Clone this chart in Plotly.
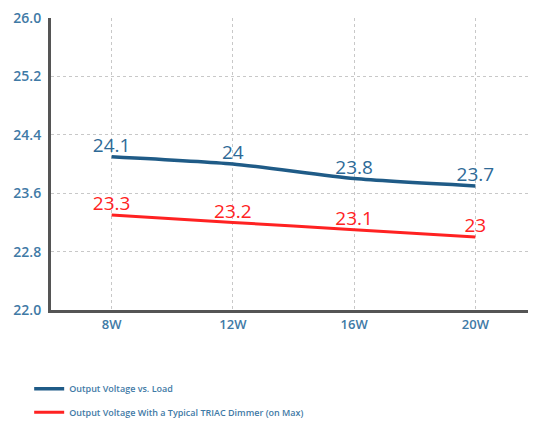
import plotly.graph_objects as go

categories = ["8W", "12W", "16W", "20W"]
load_values = [24.1, 24.0, 23.8, 23.7]
triac_values = [23.3, 23.2, 23.1, 23.0]
load_labels = ["24.1", "24", "23.8", "23.7"]
triac_labels = ["23.3", "23.2", "23.1", "23"]
y_ticks = [22.0, 22.8, 23.6, 24.4, 25.2, 26.0]

BLUE = "#1f5b87"
BLUE_TXT = "#2e6a97"
RED = "#ff2222"
TICK = "#3f7aa6"

fig = go.Figure()
fig.add_trace(go.Scatter(
    x=categories, y=load_values, mode="lines+text",
    line=dict(color=BLUE, width=3.5, shape="spline", smoothing=0.6),
    text=load_labels, textposition="top center",
    textfont=dict(family="Open Sans", size=19, color=BLUE_TXT),
    name="Output Voltage vs. Load", legend="legend",
))
fig.add_trace(go.Scatter(
    x=categories, y=triac_values, mode="lines+text",
    line=dict(color=RED, width=3, shape="spline", smoothing=0.6),
    text=triac_labels, textposition="top center",
    textfont=dict(family="Open Sans", size=19, color=RED),
    name="Output Voltage With a Typical TRIAC Dimmer (on Max)", legend="legend2",
))

legend_common = dict(
    font=dict(family="Open Sans", size=9, color=TICK, weight=600),
    bgcolor="rgba(0,0,0,0)", xanchor="left", yanchor="middle",
    itemwidth=30,
)
fig.update_layout(
    width=528, height=421,
    margin=dict(l=43, r=0, t=7, b=119),
    paper_bgcolor="white", plot_bgcolor="white",
    showlegend=True,
    legend=dict(x=-0.045, y=-0.27, **legend_common),
    legend2=dict(x=-0.045, y=-0.35, **legend_common),
    xaxis=dict(
        type="category", range=[-0.5, 3.5],
        showgrid=True, gridcolor="#c8c8c8", griddash="dot", gridwidth=1,
        showline=True, linecolor="#555555", linewidth=3,
        ticks="", tickfont=dict(family="Open Sans", size=13, color=TICK, weight=600),
        zeroline=False,
    ),
    yaxis=dict(
        range=[22.0, 26.0], tickvals=y_ticks,
        ticktext=[f"{v:.1f}" for v in y_ticks],
        showgrid=True, gridcolor="#c8c8c8", griddash="dot", gridwidth=1,
        showline=True, linecolor="#555555", linewidth=3,
        ticks="", tickfont=dict(family="Open Sans", size=14, color=TICK, weight=600),
        zeroline=False, ticklabelstandoff=4, ticklabeloverflow="allow",
    ),
    hovermode=False,
)

fig.write_html("out.html")
